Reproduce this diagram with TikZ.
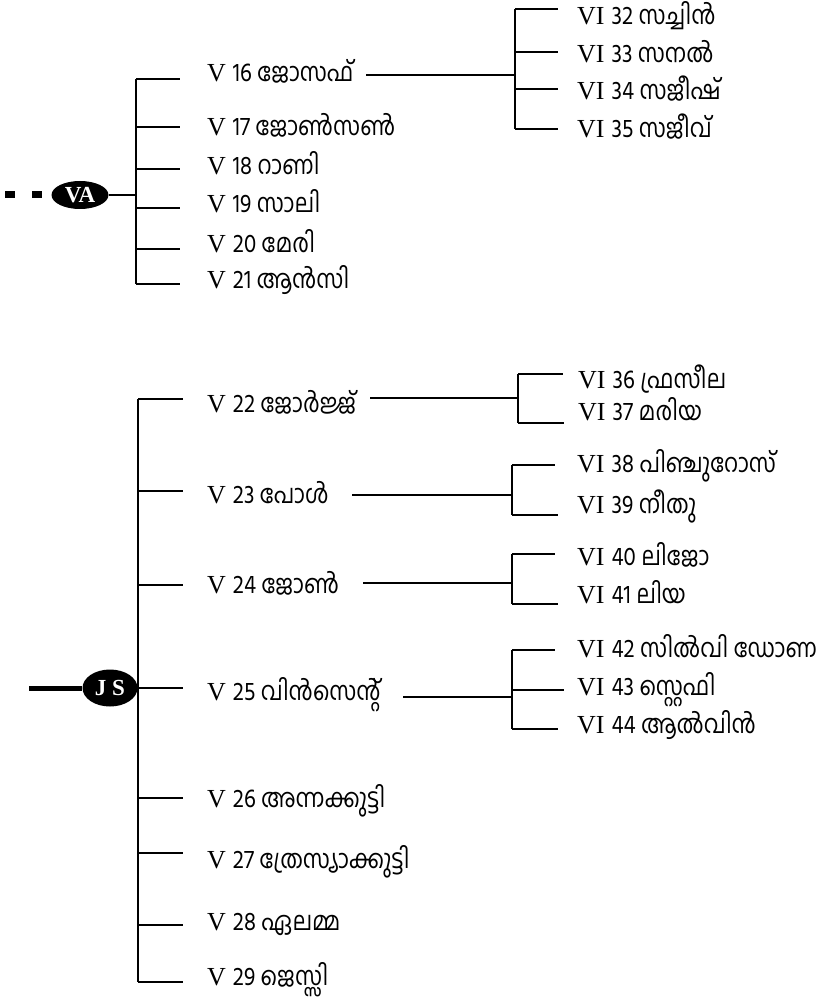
\documentclass[tikz,border=0pt]{standalone}
\usepackage{fontspec}
\newfontfamily\mlfont[Script=Malayalam,FakeStretch=0.86]{Hind Kochi}
\newfontfamily\tmsfont{Liberation Serif}
\usetikzlibrary{shapes.geometric}
\tikzset{
  conn/.style={line width=1.6pt},
  lbl/.style={anchor=base west, inner sep=0pt, font=\fontsize{26}{30}\selectfont},
  root/.style={ellipse, fill=black, text=white, inner sep=0pt, font=\tmsfont\bfseries\fontsize{23}{25}\selectfont},
}
\newcommand{\gen}[2]{{\tmsfont\fontsize{26}{30}\selectfont #1}\hspace{7pt}{\mlfont #2}}
\begin{document}
\begin{tikzpicture}[x=1pt,y=-1pt]
\useasboundingbox (0,0) rectangle (817,1000);
% ---------- VA group ----------
\node[root, minimum width=57pt, minimum height=28pt] (VA) at (80,195) {VA};
\coordinate (vaL) at (5,195);
\draw[line width=7pt, dash pattern=on 10pt off 17pt] (vaL) -- (VA.west);
\coordinate (jVA) at (136,195);
\draw[conn] (VA.east) -- (jVA);
\draw[conn] (136,79) -- (136,284);
\foreach \y in {79,127,169,208,249,284} \draw[conn] (136,\y) -- (180,\y);
\node[lbl] (v16) at (207,82) {\gen{V}{16 ജോസഫ്}};
\node[lbl] (v17) at (207,136) {\gen{V}{17 ജോൺസൺ}};
\node[lbl] (v18) at (207,175) {\gen{V}{18 റാണി}};
\node[lbl] (v19) at (207,213) {\gen{V}{19 സാലി}};
\node[lbl] (v20) at (207,252) {\gen{V}{20 മേരി}};
\node[lbl] (v21) at (207,288) {\gen{V}{21 ആൻസി}};
\coordinate (j16) at (515,75);
\draw[conn] (366,75) -- (j16);
\draw[conn] (515,9) -- (515,129);
\foreach \y in {9,52,89,129} \draw[conn] (515,\y) -- (558,\y);
\node[lbl] (v32) at (577,25) {\gen{VI}{32 സച്ചിൻ}};
\node[lbl] (v33) at (577,63) {\gen{VI}{33 സനൽ}};
\node[lbl] (v34) at (577,100) {\gen{VI}{34 സജീഷ്}};
\node[lbl] (v35) at (577,138) {\gen{VI}{35 സജീവ്}};
% ---------- JS group ----------
\node[root, minimum width=55pt, minimum height=37pt] (JS) at (110,688) {J S};
\coordinate (jsL) at (29,688);
\draw[line width=5pt] (jsL) -- (JS.west);
\draw[conn] (138,399) -- (138,982);
\foreach \y in {399,491,585,688,798,853,925,982} \draw[conn] (138,\y) -- (183,\y);
\node[lbl] (v22) at (207,412) {\gen{V}{22 ജോർജ്ജ്}};
\node[lbl] (v23) at (207,503) {\gen{V}{23 പോൾ}};
\node[lbl] (v24) at (207,593) {\gen{V}{24 ജോൺ}};
\node[lbl] (v25) at (207,700) {\gen{V}{25 വിൻസെന്റ്}};
\node[lbl] (v26) at (207,807) {\gen{V}{26 അന്നക്കുട്ടി}};
\node[lbl] (v27) at (207,868) {\gen{V}{27 ത്രേസ്യാക്കുട്ടി}};
\node[lbl] (v28) at (207,930) {\gen{V}{28 ഏലമ്മ}};
\node[lbl] (v29) at (207,985) {\gen{V}{29 ജെസ്സി}};
% V22 children
\draw[conn] (370,398) -- (518,398);
\draw[conn] (518,374) -- (518,423);
\draw[conn] (518,374) -- (563,374);
\draw[conn] (518,423) -- (564,423);
\node[lbl] (v36) at (578,388) {\gen{VI}{36 ഫ്രസീല}};
\node[lbl] (v37) at (578,420) {\gen{VI}{37 മരിയ}};
% V23 children
\draw[conn] (352,495) -- (512,495);
\draw[conn] (512,465) -- (512,515);
\draw[conn] (512,465) -- (555,465);
\draw[conn] (512,515) -- (558,515);
\node[lbl] (v38) at (577,472) {\gen{VI}{38 പിഞ്ചുറോസ്}};
\node[lbl] (v39) at (577,513) {\gen{VI}{39 നീതു}};
% V24 children
\draw[conn] (363,583) -- (512,583);
\draw[conn] (512,554) -- (512,604);
\draw[conn] (512,554) -- (555,554);
\draw[conn] (512,604) -- (558,604);
\node[lbl] (v40) at (577,565) {\gen{VI}{40 ലിജോ}};
\node[lbl] (v41) at (577,603) {\gen{VI}{41 ലിയ}};
% V25 children
\draw[conn] (403,697) -- (512,697);
\draw[conn] (512,650) -- (512,729);
\draw[conn] (512,650) -- (555,650);
\draw[conn] (512,690) -- (564,690);
\draw[conn] (512,729) -- (558,729);
\node[lbl] (v42) at (577,657) {\gen{VI}{42 സിൽവി ഡോണ}};
\node[lbl] (v43) at (577,695) {\gen{VI}{43 സ്റ്റെഫി}};
\node[lbl] (v44) at (577,733) {\gen{VI}{44 ആൽവിൻ}};
\end{tikzpicture}
\end{document}
